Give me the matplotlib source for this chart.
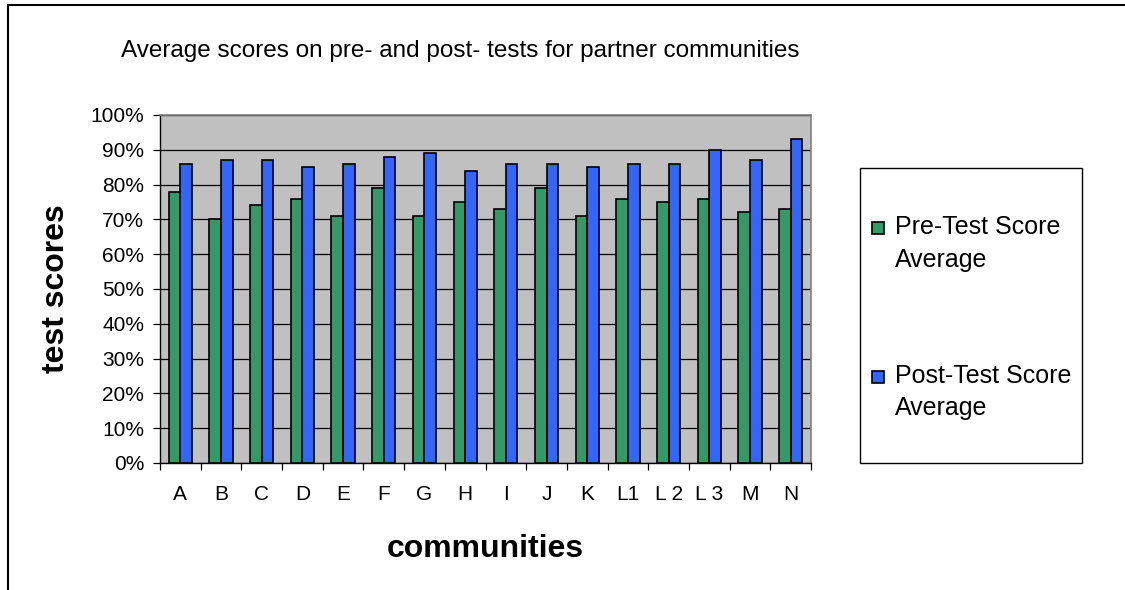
import matplotlib
matplotlib.use("Agg")
import matplotlib.pyplot as plt
from matplotlib.patches import Rectangle
import numpy as np

plt.rcParams['font.family'] = ['Liberation Sans', 'DejaVu Sans']

categories = ["A", "B", "C", "D", "E", "F", "G", "H", "I", "J", "K", "L1", "L 2", "L 3", "M", "N"]
pre_test = [78, 70, 74, 76, 71, 79, 71, 75, 73, 79, 71, 76, 75, 76, 72, 73]
post_test = [86, 87, 87, 85, 86, 88, 89, 84, 86, 86, 85, 86, 86, 90, 87, 93]
ytick_values = [0, 10, 20, 30, 40, 50, 60, 70, 80, 90, 100]
ytick_labels = ["0%", "10%", "20%", "30%", "40%", "50%", "60%", "70%", "80%", "90%", "100%"]
series_names = [["Pre-Test Score", "Average"], ["Post-Test Score", "Average"]]
series_colors = ['#339966', '#3366FF']
title = "Average scores on pre- and post- tests for partner communities"

W, H = 1125, 590
fig = plt.figure(figsize=(W / 100, H / 100), dpi=100)

def fx(px):
    return px / W

def fy(py):
    return 1 - py / H

# outer chart border (top and left visible)
fig.patches.append(Rectangle((fx(8), fy(600)), fx(1130), fy(5) - fy(600),
                             transform=fig.transFigure, fill=False,
                             edgecolor='black', linewidth=1.5, clip_on=False))

ax = fig.add_axes([fx(160), fy(463), fx(811) - fx(160), fy(115) - fy(463)])
ax.set_facecolor('#C0C0C0')

x = np.arange(len(categories))
bw = 1 / 3.5
ax.bar(x - bw / 2, pre_test, width=bw, color=series_colors[0], edgecolor='black', linewidth=1.2, zorder=3)
ax.bar(x + bw / 2, post_test, width=bw, color=series_colors[1], edgecolor='black', linewidth=1.2, zorder=3)

ax.set_xlim(-0.5, len(categories) - 0.5)
ax.set_ylim(0, 100)
ax.set_yticks(ytick_values)
ax.set_yticklabels(ytick_labels, fontsize=15)
ax.yaxis.grid(True, color='black', linewidth=0.9, zorder=1)
ax.set_axisbelow(True)

ax.set_xticks(x)
ax.set_xticklabels(categories, fontsize=15)
ax.set_xticks(np.arange(len(categories) + 1) - 0.5, minor=True)
ax.tick_params(axis='x', which='major', length=0, pad=16)
ax.tick_params(axis='x', which='minor', length=5, width=0.9, direction='out')
ax.tick_params(axis='y', which='major', length=5, width=0.9, direction='out', pad=6.5)

for s in ['top', 'right']:
    ax.spines[s].set_color('#808080')
    ax.spines[s].set_linewidth(1.2)
for s in ['left', 'bottom']:
    ax.spines[s].set_color('black')
    ax.spines[s].set_linewidth(1.0)

fig.text(fx(121), fy(57), title, fontsize=17.5, ha='left', va='baseline')
fig.text(fx(56), fy(289), "test scores", fontsize=23, fontweight='bold',
         rotation=90, ha='center', va='center')
fig.text(fx(485), fy(557), "communities", fontsize=23, fontweight='bold',
         ha='center', va='baseline')

# legend box
fig.patches.append(Rectangle((fx(860), fy(463)), fx(1082) - fx(860), fy(168) - fy(463),
                             transform=fig.transFigure, fill=True, facecolor='white',
                             edgecolor='black', linewidth=1.0))
entry_top = [226, 374.5]
for i, (lines, col) in enumerate(zip(series_names, series_colors)):
    yc = entry_top[i]
    fig.patches.append(Rectangle((fx(872), fy(yc + 8)), fx(884) - fx(872), fy(yc - 4) - fy(yc + 8),
                                 transform=fig.transFigure, facecolor=col,
                                 edgecolor='black', linewidth=1.2))
    for j, line in enumerate(lines):
        fig.text(fx(895), fy(yc + 8.5 + 32 * j), line, fontsize=18,
                 ha='left', va='baseline')

fig.savefig("out.png", dpi=100)
